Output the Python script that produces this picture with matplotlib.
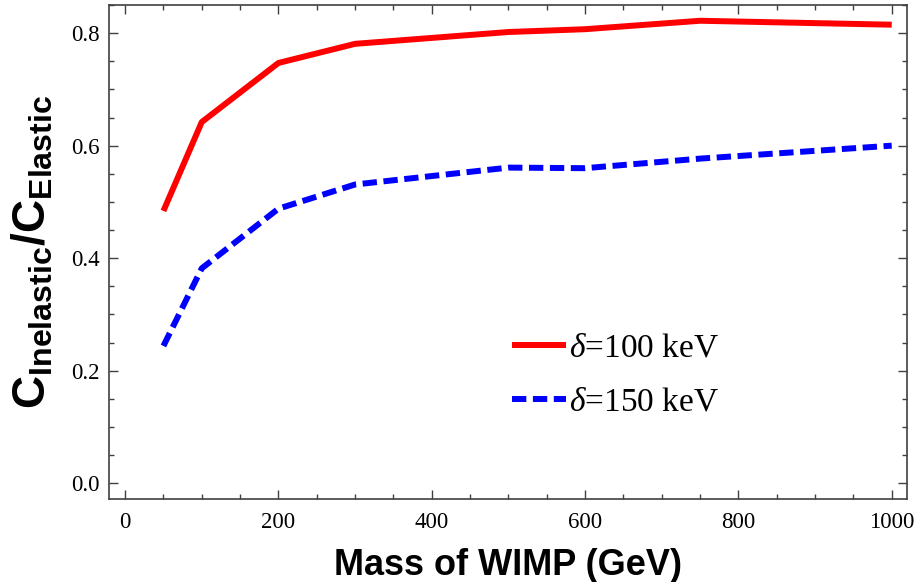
"""
Ratio of inelastic to elastic capture rate vs WIMP mass, two mass splittings.
Writes out.png
"""
import matplotlib
matplotlib.use('Agg')
import matplotlib.pyplot as plt
from matplotlib.ticker import MultipleLocator, FormatStrFormatter

# WIMP masses (GeV)
mass = [50, 100, 200, 300, 500, 600, 750, 1000]
# C_inelastic / C_elastic
ratio_100 = [0.484, 0.642, 0.747, 0.781, 0.802, 0.807, 0.822, 0.815]
ratio_150 = [0.244, 0.382, 0.488, 0.531, 0.561, 0.560, 0.577, 0.600]
labels = [r'$\delta$=100 keV', r'$\delta$=150 keV']

plt.rcParams['font.family'] = ['Liberation Serif', 'DejaVu Serif']
plt.rcParams['mathtext.fontset'] = 'custom'
plt.rcParams['mathtext.rm'] = 'Liberation Serif'
plt.rcParams['mathtext.it'] = 'Liberation Serif:italic'
plt.rcParams['mathtext.bf'] = 'Liberation Sans:bold'

FRAME = '#404040'

fig = plt.figure(figsize=(9.19, 5.82), dpi=100)
ax = fig.add_axes([0.1186, 0.1426, 0.8684, 0.8488])

ax.plot(mass, ratio_100, color='#ff0000', lw=4.3, solid_capstyle='butt',
        label=labels[0])
ax.plot(mass, ratio_150, color='#0000ff', lw=4.3, dashes=(2.4, 1.1),
        dash_capstyle='butt', label=labels[1])

ax.set_xlim(-21, 1020)
ax.set_ylim(-0.028, 0.85)

ax.xaxis.set_major_locator(MultipleLocator(200))
ax.xaxis.set_minor_locator(MultipleLocator(50))
ax.yaxis.set_major_locator(MultipleLocator(0.2))
ax.yaxis.set_minor_locator(MultipleLocator(0.05))
ax.yaxis.set_major_formatter(FormatStrFormatter('%.1f'))

ax.tick_params(which='both', direction='in', top=True, right=True,
               color=FRAME, width=1.0, labelsize=16.5)
ax.tick_params(which='major', length=6.5)
ax.tick_params(axis='x', which='major', pad=9)
ax.tick_params(axis='y', which='major', pad=7)
ax.tick_params(which='minor', length=3.8)
for sp in ax.spines.values():
    sp.set_color(FRAME)
    sp.set_linewidth(1.2)

ax.set_xlabel('Mass of WIMP (GeV)', fontfamily='Liberation Sans',
              fontweight='bold', fontsize=26, labelpad=11)
ax.set_ylabel(r'$\mathbf{C_{Inelastic}/C_{Elastic}}$', fontsize=33,
              labelpad=11)

leg = ax.legend(loc='center left', bbox_to_anchor=(0.467, 0.25),
                frameon=False, handlelength=1.62, handletextpad=0.1,
                labelspacing=0.7, prop={'family': 'Liberation Serif',
                                        'size': 24})

fig.savefig('out.png', dpi=100)
